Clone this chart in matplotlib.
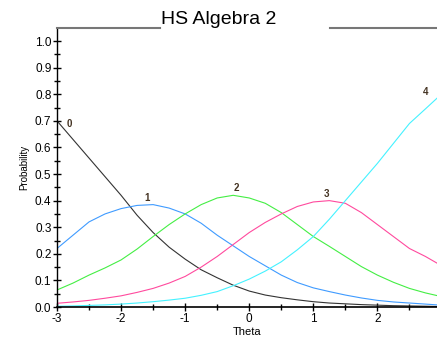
import matplotlib.pyplot as plt
import numpy as np
from matplotlib.lines import Line2D

plt.rcParams['font.family'] = ['Liberation Sans', 'DejaVu Sans']
plt.rcParams['axes.unicode_minus'] = False

theta = [-3.0, -2.75, -2.5, -2.25, -2.0, -1.75, -1.5, -1.25, -1.0, -0.75, -0.5, -0.25,
         0.0, 0.25, 0.5, 0.75, 1.0, 1.25, 1.5, 1.75, 2.0, 2.25, 2.5, 2.75, 2.93]
cat0 = [0.70, 0.63, 0.56, 0.49, 0.42, 0.345, 0.28, 0.225, 0.18, 0.14, 0.11, 0.082,
        0.06, 0.045, 0.035, 0.027, 0.02, 0.015, 0.012, 0.009, 0.007, 0.005, 0.004, 0.003, 0.002]
cat1 = [0.22, 0.27, 0.32, 0.35, 0.37, 0.382, 0.385, 0.372, 0.35, 0.315, 0.27, 0.23,
        0.19, 0.155, 0.12, 0.092, 0.072, 0.058, 0.045, 0.034, 0.025, 0.019, 0.015, 0.011, 0.008]
cat2 = [0.064, 0.09, 0.12, 0.147, 0.177, 0.218, 0.265, 0.31, 0.35, 0.385, 0.41, 0.42,
        0.41, 0.39, 0.355, 0.31, 0.265, 0.228, 0.19, 0.152, 0.12, 0.093, 0.07, 0.053, 0.043]
cat3 = [0.014, 0.019, 0.025, 0.033, 0.042, 0.055, 0.07, 0.09, 0.115, 0.15, 0.19, 0.235,
        0.28, 0.318, 0.35, 0.378, 0.395, 0.40, 0.39, 0.355, 0.31, 0.265, 0.22, 0.19, 0.165]
cat4 = [0.003, 0.004, 0.006, 0.008, 0.011, 0.015, 0.02, 0.026, 0.033, 0.044, 0.058, 0.08,
        0.105, 0.135, 0.17, 0.215, 0.265, 0.33, 0.40, 0.47, 0.54, 0.615, 0.69, 0.745, 0.785]

series = [cat0, cat1, cat2, cat3, cat4]
colors = ['#333333', '#3f9bff', '#44ee44', '#ff4a9e', '#44f2ff']
names = ['0', '1', '2', '3', '4']
label_pos = [(-2.8, 0.67), (-1.6, 0.39), (-0.2, 0.43), (1.2, 0.405), (2.75, 0.79)]

fig = plt.figure(figsize=(4.37, 3.42), dpi=100)
ax = fig.add_axes([0.1304, 0.1023, 0.8696, 0.8158])

for ys, c in zip(series, colors):
    ax.plot(theta, ys, color=c, lw=0.8)

for (lx, ly), n in zip(label_pos, names):
    ax.text(lx, ly, n, fontsize=7, color='#443322', ha='center', va='bottom', weight='bold')

ax.set_xlim(-3, 2.93)
ax.set_ylim(0, 1.049)
ax.set_xticks([-3, -2, -1, 0, 1, 2])
ax.set_xticks(np.arange(-2.5, 3, 1.0), minor=True)
ax.set_yticks(np.arange(0, 1.01, 0.1))
ax.set_yticklabels(['%.1f' % v for v in np.arange(0, 1.01, 0.1)])
ax.set_yticks(np.arange(0.05, 1.0, 0.1), minor=True)
ax.tick_params(which='both', direction='inout', length=6, width=1, labelsize=8.5, pad=1)
ax.tick_params(which='minor', length=5)

for s in ['top', 'right']:
    ax.spines[s].set_visible(False)
ax.spines['left'].set_linewidth(1)
ax.spines['bottom'].set_linewidth(1.2)

ax.set_xlabel('Theta', fontsize=8, labelpad=2)
ax.set_ylabel('Probability', fontsize=7, labelpad=4)

# title with gray rules on both sides
fig.text(0.5, 0.944, 'HS Algebra 2', fontsize=14, ha='center', va='center')
fig.add_artist(Line2D([57 / 437, 160 / 437], [1 - 28 / 342] * 2, color='#777777', lw=1.5))
fig.add_artist(Line2D([330 / 437, 1.0], [1 - 28 / 342] * 2, color='#777777', lw=1.5))

plt.savefig('out.png', dpi=100)
plt.close()
